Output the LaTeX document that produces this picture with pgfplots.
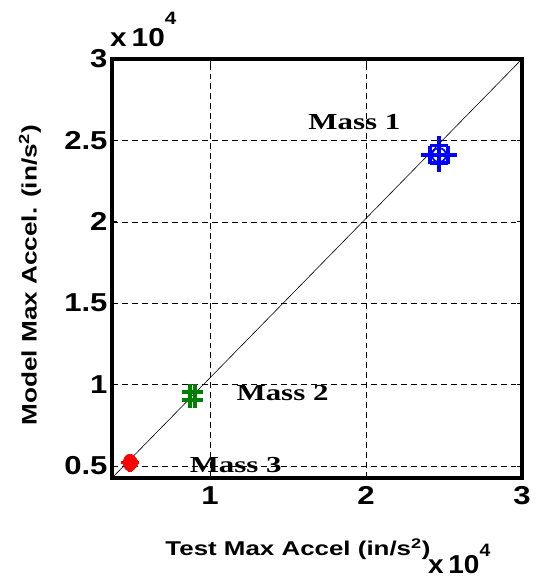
\documentclass[border=0pt]{standalone}
\usepackage{pgfplots}
\pgfplotsset{compat=1.18}
\usepackage{fontspec}
\setmainfont{Liberation Sans}
\newfontfamily\timesbf{Liberation Serif}[BoldFont={Liberation Serif Bold}]
\definecolor{mblue}{RGB}{0,0,255}
\definecolor{mgreen}{RGB}{0,128,0}
\definecolor{mred}{RGB}{255,0,0}
\newcommand{\sx}[1]{\scalebox{1.2}[1]{#1}}
\begin{document}
\begin{tikzpicture}[x=1bp,y=1bp]
\useasboundingbox (0,0) rectangle (537,579);
\begin{axis}[
    at={(112bp,101bp)}, anchor=south west,
    scale only axis, width=410bp, height=419bp,
    xmin=0.372, xmax=3, ymin=0.426, ymax=3,
    xtick={1,2,3}, ytick={0.5,1,1.5,2,2.5,3},
    yticklabels={\sx{0.5},\sx{1},\sx{1.5},\sx{2},\sx{2.5},\sx{3}},
    xticklabels={\sx{1},\sx{2},\sx{3}},
    tick align=inside, major tick length=5bp,
    tick style={black, line width=0.8pt},
    grid=major, grid style={black, dash pattern=on 6pt off 4pt, line width=0.5pt},
    ticklabel style={font=\fontsize{26}{26}\selectfont\bfseries},
    xticklabel style={yshift=-5bp},
    yticklabel style={xshift=-1bp},
    /pgf/number format/assume math mode=true,
    clip=false,
]
\addplot[black, line width=0.6pt] coordinates {(0.372,0.426)(3,3)};
% Mass 1
\addplot[only marks, mblue, mark=+, mark size=9bp, every mark/.append style={line width=3.5pt}]
  coordinates {(2.468,2.47)(2.468,2.36)(2.41,2.41)(2.526,2.41)(2.468,2.41)};
\addplot[only marks, mblue, mark=o, mark size=7bp, every mark/.append style={line width=1.8pt}]
  coordinates {(2.468,2.41)};
% Mass 2
\addplot[only marks, mgreen, mark=+, mark size=8bp, every mark/.append style={line width=3.5pt}]
  coordinates {(0.872,0.955)(0.904,0.955)(0.872,0.905)(0.904,0.905)};
% Mass 3
\addplot[only marks, mred, mark=*, mark size=6bp]
  coordinates {(0.48,0.52)(0.50,0.52)(0.487,0.535)(0.487,0.505)};
\addplot[only marks, mred, mark=+, mark size=9bp, every mark/.append style={line width=3.5pt}]
  coordinates {(0.487,0.52)};
\node[font=\timesbf\fontsize{23}{23}\selectfont\bfseries, anchor=west, xscale=1.35] at (axis cs:1.60,2.613) {Mass 1};
\node[font=\timesbf\fontsize{23}{23}\selectfont\bfseries, anchor=west, xscale=1.35] at (axis cs:1.14,0.948) {Mass 2};
\node[font=\timesbf\fontsize{23}{23}\selectfont\bfseries, anchor=west, xscale=1.35] at (axis cs:0.84,0.506) {Mass 3};
\draw[line width=3.5pt] (rel axis cs:0,0) rectangle (rel axis cs:1,1);
\end{axis}
\node[font=\fontsize{26}{26}\selectfont\bfseries, anchor=base west, inner sep=0pt] at (110,532) {\scalebox{1.15}[1]{x\,10\raisebox{22bp}{\fontsize{18}{18}\selectfont 4}}};
\node[font=\fontsize{26}{26}\selectfont\bfseries, anchor=base west, inner sep=0pt] at (428,5) {\scalebox{1.08}[1]{x\,10\raisebox{17bp}{\fontsize{18}{18}\selectfont 4}}};
\node[font=\fontsize{20}{20}\selectfont\bfseries, xscale=1.3] at (298,30) {Test Max Accel (in/s\textsuperscript{2})};
\node[font=\fontsize{21}{21}\selectfont\bfseries, rotate=90] at (30,304) {\scalebox{1.25}[1]{Model Max Accel. (in/s\textsuperscript{2})}};
\end{tikzpicture}
\end{document}
